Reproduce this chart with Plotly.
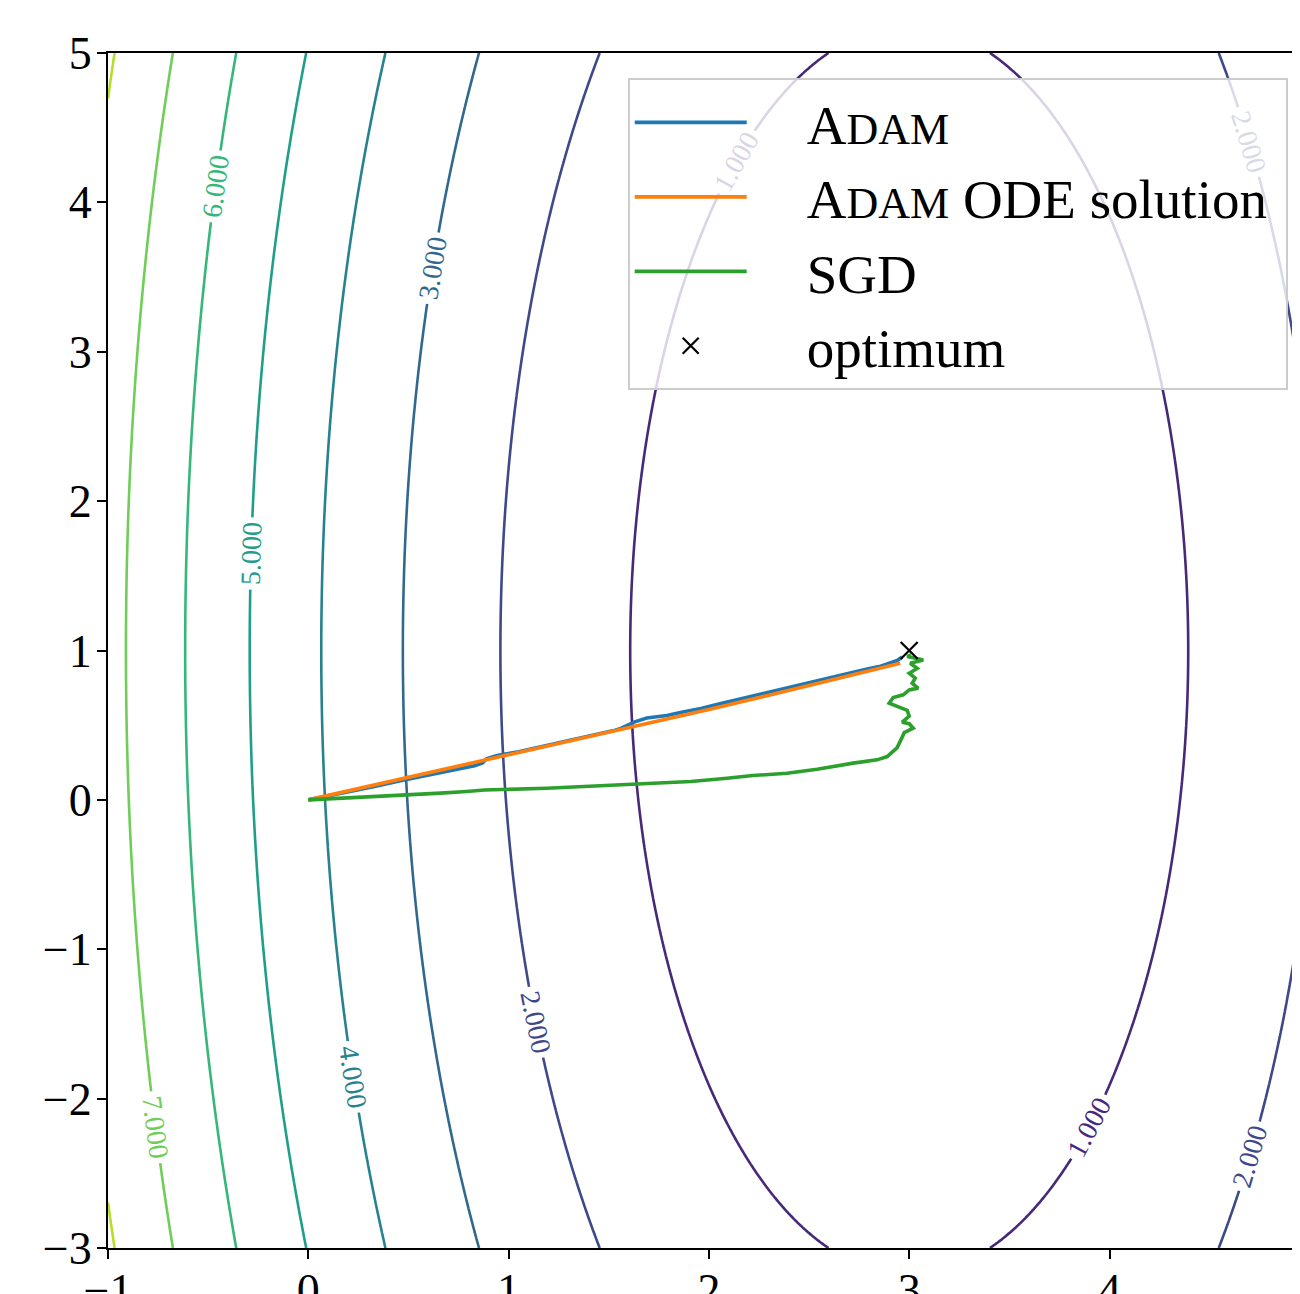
import numpy as np
import plotly.graph_objects as go

opt_x, opt_y = 3.0, 1.0
curv = 0.4494          # loss per unit^2 along x
aspect_y = 9.0         # y-direction is 3x wider
loss_offset = 0.128
level_start, level_end, level_step = 0, 9, 1

# ---- trajectories ----
ode_x = [0.0, 0.5, 1.0, 1.46, 2.0, 2.5, 2.93, 2.955]
ode_y = [0.0, 0.151, 0.301, 0.437, 0.605, 0.765, 0.903, 0.915]

adam_x = [0.0, 0.1, 0.21, 0.33, 0.46, 0.58, 0.71, 0.78, 0.83, 0.87, 0.89, 0.93, 0.96, 1.05,
          1.13, 1.21, 1.29, 1.38, 1.46, 1.52, 1.56, 1.6, 1.63, 1.69, 1.79, 1.87, 1.96, 2.06,
          2.16, 2.24, 2.32, 2.4, 2.46, 2.54, 2.61, 2.69, 2.79, 2.85, 2.9, 2.94, 2.965]
adam_y = [0.0, 0.026, 0.053, 0.09, 0.128, 0.162, 0.196, 0.214, 0.228, 0.248, 0.275, 0.292,
          0.302, 0.322, 0.345, 0.368, 0.392, 0.416, 0.445, 0.462, 0.478, 0.5, 0.522, 0.548,
          0.565, 0.588, 0.612, 0.645, 0.677, 0.701, 0.727, 0.753, 0.775, 0.8, 0.823, 0.848,
          0.876, 0.892, 0.912, 0.933, 0.957]

sgd_x = [0.0, 0.16, 0.35, 0.51, 0.66, 0.79, 0.88, 1.19, 1.46, 1.65, 1.91, 2.09, 2.22, 2.39,
         2.54, 2.72, 2.84, 2.89, 2.94, 2.965, 2.975, 3.02, 3.0, 2.965, 3.0, 2.99, 2.945, 2.9,
         2.92, 2.97, 3.0, 3.045, 3.015, 3.03, 3.0, 3.04, 3.005, 3.07, 3.02, 2.99, 3.01]
sgd_y = [0.0, 0.01, 0.022, 0.035, 0.045, 0.056, 0.066, 0.078, 0.094, 0.11, 0.123, 0.145,
         0.163, 0.178, 0.205, 0.246, 0.268, 0.29, 0.35, 0.42, 0.45, 0.48, 0.51, 0.52, 0.56,
         0.6, 0.625, 0.647, 0.685, 0.703, 0.736, 0.748, 0.78, 0.815, 0.848, 0.88, 0.915,
         0.937, 0.952, 0.96, 0.97]

opt_marker_x = [3.0]
opt_marker_y = [1.0]

x_ticks = [-1, 0, 1, 2, 3, 4]
y_ticks = [-3, -2, -1, 0, 1, 2, 3, 4, 5]
x_range = [-1.0, 4.951]
y_range = [-3.0, 5.0]

SERIF = "Liberation Serif, Times New Roman, serif"

gx = np.linspace(-1.0, 5.0, 301)
gy = np.linspace(-3.0, 5.0, 401)
GX, GY = np.meshgrid(gx, gy)
Z = curv * ((GX - opt_x) ** 2 + (GY - opt_y) ** 2 / aspect_y) + loss_offset

fig = go.Figure()
fig.add_trace(go.Contour(
    x=gx, y=gy, z=Z,
    autocontour=False,
    contours=dict(start=level_start, end=level_end, size=level_step,
                  coloring="lines", showlabels=True, labelformat=".3f",
                  labelfont=dict(family=SERIF, size=28)),
    colorscale="Viridis", line=dict(width=2.6),
    showscale=False, hoverinfo="skip", showlegend=False,
))

pad = "\u00a0\u00a0\u00a0\u00a0"
sc_name = pad + "A<span style='font-size:44px'>DAM</span>"
fig.add_trace(go.Scatter(x=adam_x, y=adam_y, mode="lines", name=sc_name,
                         legendgroup="a", line=dict(color="#1f77b4", width=3.6)))
fig.add_trace(go.Scatter(x=ode_x, y=ode_y, mode="lines",
                         name=sc_name + " ODE solution\u00a0",
                         legendgroup="b", line=dict(color="#ff7f0e", width=3.6)))
fig.add_trace(go.Scatter(x=sgd_x, y=sgd_y, mode="lines", name=pad + "SGD",
                         legendgroup="c", line=dict(color="#2ca02c", width=3.6)))
fig.add_trace(go.Scatter(x=opt_marker_x, y=opt_marker_y, mode="markers", name=pad + "optimum",
                         legendgroup="d",
                         marker=dict(symbol="x-thin", size=17, color="black",
                                     line=dict(color="black", width=2.2))))

axis_common = dict(showgrid=False, zeroline=False, showline=True, linecolor="black",
                   linewidth=2, mirror=True, ticks="outside", ticklen=9, tickwidth=2,
                   tickcolor="black", automargin=False,
                   tickfont=dict(family=SERIF, size=46, color="black"))
fig.update_xaxes(range=x_range, tickvals=x_ticks, ticklabelstandoff=-8, **axis_common)
fig.update_yaxes(range=y_range, tickvals=y_ticks, ticklabelstandoff=-4, **axis_common)

fig.update_layout(
    width=1292, height=1286,
    margin=dict(l=100, r=0, t=45, b=46),
    plot_bgcolor="white", paper_bgcolor="white",
    legend=dict(x=0.436, y=0.979, xanchor="left", yanchor="top",
                bgcolor="rgba(255,255,255,0.8)", bordercolor="#cccccc", borderwidth=2,
                font=dict(family=SERIF, size=55, color="black"),
                itemwidth=112, tracegroupgap=0),
)

fig.write_html("out.html")
